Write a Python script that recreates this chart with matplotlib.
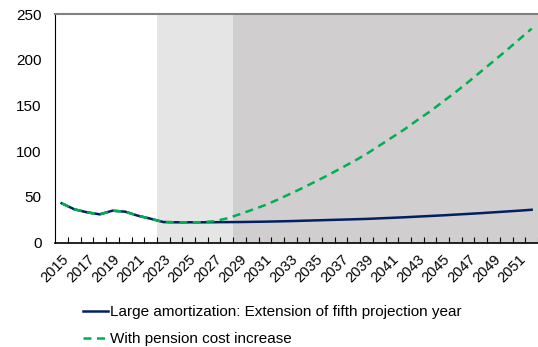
import matplotlib
matplotlib.use("Agg")
import matplotlib.pyplot as plt
import numpy as np

plt.rcParams['font.family'] = ['Liberation Sans', 'DejaVu Sans']

years = list(range(2015, 2053))
base = [43.1, 36.5, 33.2, 31.0, 35.0, 33.9, 29.5, 26.2, 22.6, 22.3,
        22.3, 22.3, 22.4, 22.5, 22.6, 22.8, 23.0, 23.3, 23.6, 24.0,
        24.4, 24.8, 25.2, 25.6, 26.0, 26.6, 27.2, 27.8, 28.5, 29.2,
        29.9, 30.7, 31.5, 32.3, 33.2, 34.1, 35.0, 36.0]
pension = [43.1, 36.5, 33.2, 31.0, 35.0, 33.9, 29.5, 26.2, 22.6, 22.3,
           22.3, 22.4, 23.5, 26.5, 31.0, 36.0, 41.0, 47.0, 53.5, 60.0,
           67.0, 74.0, 81.5, 89.0, 97.0, 106.0, 115.0, 124.0, 134.0, 143.5,
           154.0, 164.5, 175.5, 187.0, 198.5, 210.0, 222.0, 234.0]
label_years = list(range(2015, 2052, 2))
shade_light = (2023, 2028)
shade_dark_start = 2029
series_names = ["Large amortization: Extension of fifth projection year",
                "With pension cost increase"]

fig = plt.figure(figsize=(5.38, 3.47), dpi=100)
ax = fig.add_axes([55.3/538, 1-242.7/347, 1-55.3/538, (242.7-14)/347])

x = np.arange(len(years))
i_light0 = years.index(shade_light[0]) - 0.5
i_light1 = years.index(shade_light[1]) + 0.5
i_dark0 = years.index(shade_dark_start) - 0.5
ax.axvspan(i_light0, i_light1, color='#e5e5e5', lw=0, zorder=0)
ax.axvspan(i_dark0, len(years) + 1, color='#d0cecf', lw=0, zorder=0)

l1, = ax.plot(x, base, color='#002060', lw=1.8, zorder=3, label=series_names[0])
l2, = ax.plot(x, pension, color='#00b050', lw=1.8, zorder=4,
              dashes=(3.2, 2.2), label=series_names[1])

ax.set_xlim(-0.5, 36.92)
ax.set_ylim(0, 250)
ax.set_yticks([0, 50, 100, 150, 200, 250])
ax.tick_params(axis='y', length=0, pad=10, labelsize=11)

ax.set_xticks([years.index(y) for y in label_years])
ax.set_xticklabels([str(y) for y in label_years], rotation=45, ha='right',
                   va='top', rotation_mode='anchor', fontsize=10.5)
ax.tick_params(axis='x', which='major', length=0, pad=7)
ax.set_xticks(np.arange(0.5, len(years), 1.0), minor=True)
ax.tick_params(axis='x', which='minor', direction='in', length=4, width=0.8, color='black')

ax.spines['right'].set_visible(False)
ax.spines['top'].set_color('#808080')
ax.spines['top'].set_linewidth(1.5)
ax.spines['left'].set_color('black')
ax.spines['bottom'].set_color('black')
ax.spines['bottom'].set_linewidth(1.2)

fig.legend(handles=[l1, l2], loc='upper left', bbox_to_anchor=(83/538, 1-305/347),
           frameon=False, fontsize=11, handlelength=1.63, handletextpad=0.13,
           labelspacing=0.88, borderpad=0, borderaxespad=0)

fig.savefig('out.png', dpi=100)
